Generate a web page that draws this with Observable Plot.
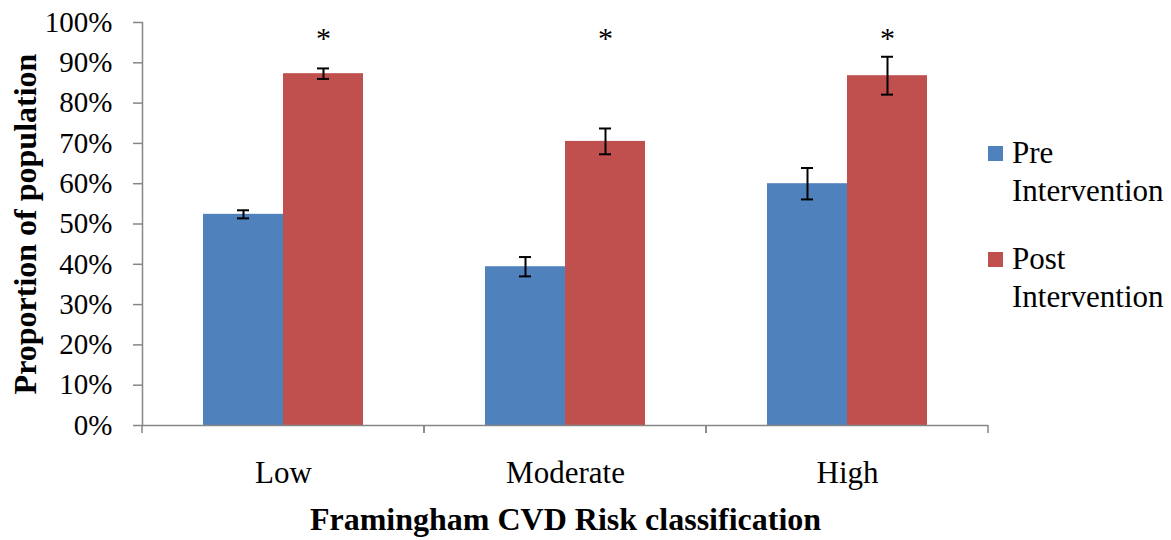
<!DOCTYPE html>
<html>
<head>
<meta charset="utf-8">
<script src="https://cdn.jsdelivr.net/npm/d3@7"></script>
<script src="https://cdn.jsdelivr.net/npm/@observablehq/plot@0.6"></script>
<style>
  body { margin: 0; background: #fff; }
  #wrap { position: relative; width: 1171px; height: 540px; font-family: "Liberation Serif", "Times New Roman", serif; }
  #wrap svg { position: absolute; left: 0; top: 0; }
  .lg { position: absolute; left: 988px; font-size: 31px; line-height: 38px; color: #000; }
  .lg .sw { position: absolute; left: 0; top: 12px; width: 15px; height: 15px; }
  .lg .tx { position: absolute; left: 24px; top: 0; white-space: nowrap; }
</style>
</head>
<body>
<div id="wrap"></div>
<script>
// ---- data ----
const categories = ["Low", "Moderate", "High"];
const series = ["Pre Intervention", "Post Intervention"];
const seriesLines = [["Pre", "Intervention"], ["Post", "Intervention"]];
const preValues  = [52.4, 39.4, 60.0];
const preErrors  = [1.0, 2.4, 3.9];
const postValues = [87.3, 70.5, 86.8];
const postErrors = [1.3, 3.2, 4.7];
const significant = [true, true, true];
const yTicks = [0, 10, 20, 30, 40, 50, 60, 70, 80, 90, 100];
const colors = ["#4F81BD", "#C0504D"];
const yLabel = "Proportion of population";
const xLabel = "Framingham CVD Risk classification";

// ---- table ----
const rows = [];
categories.forEach((c, i) => {
  rows.push({category: c, series: series[0], value: preValues[i], err: preErrors[i]});
  rows.push({category: c, series: series[1], value: postValues[i], err: postErrors[i]});
});
const starRows = categories
  .map((c, i) => ({category: c, series: series[1], sig: significant[i]}))
  .filter(d => d.sig);

const axisGray = "#868686";

// boundary ticks under the category axis (drawn at each facet's edges)
function groupTicks(index, scales, values, dimensions) {
  const {width, height, marginLeft, marginRight, marginBottom} = dimensions;
  const y0 = height - marginBottom;
  const g = d3.create("svg:g").attr("stroke", axisGray).attr("stroke-width", 1.5);
  for (const x of [marginLeft, width - marginRight]) {
    g.append("line").attr("x1", x).attr("x2", x).attr("y1", y0).attr("y2", y0 + 8);
  }
  return g.node();
}

const chart = Plot.plot({
  width: 1171,
  height: 540,
  marginLeft: 141,
  marginRight: 183,
  marginTop: 22,
  marginBottom: 115,
  style: {fontFamily: "'Liberation Serif', 'Times New Roman', serif", background: "white", color: "black"},
  fx: {domain: categories, padding: 0},
  x: {domain: series, paddingInner: 0, paddingOuter: 0.75, axis: null},
  y: {domain: [0, 100]},
  color: {domain: series, range: colors},
  marks: [
    Plot.barY(rows, {fx: "category", x: "series", y: "value", fill: "series"}),
    Plot.ruleX(rows, {fx: "category", x: "series", y1: d => d.value - d.err, y2: d => d.value + d.err, stroke: "black", strokeWidth: 2}),
    Plot.tickY(rows, {fx: "category", x: "series", y: d => d.value - d.err, stroke: "black", strokeWidth: 2, insetLeft: 34, insetRight: 34}),
    Plot.tickY(rows, {fx: "category", x: "series", y: d => d.value + d.err, stroke: "black", strokeWidth: 2, insetLeft: 34, insetRight: 34}),
    Plot.text(starRows, {fx: "category", x: "series", text: () => "*", frameAnchor: "top", dy: 4, fontSize: 30, fill: "black"}),
    Plot.ruleY([0], {stroke: axisGray, strokeWidth: 1.5}),
    Plot.frame({anchor: "left", facetAnchor: "left", stroke: axisGray, strokeWidth: 1.5}),
    groupTicks,
    Plot.axisY({ticks: yTicks, tickFormat: d => d + "%", tickSize: 9, tickPadding: 21, fontSize: 29, stroke: axisGray, strokeWidth: 1.5, label: null}),
    Plot.axisY({ticks: [], tickSize: 0, label: yLabel, labelAnchor: "center", labelOffset: 129, labelArrow: "none", fontSize: 32, fontWeight: "bold"}),
    Plot.axisFx({anchor: "bottom", tickSize: 0, tickPadding: 35, fontSize: 31, label: null}),
    Plot.axisFx({anchor: "bottom", ticks: [], tickSize: 0, label: xLabel, labelAnchor: "center", labelOffset: 104, fontSize: 32, fontWeight: "bold"})
  ]
});

const wrap = document.getElementById("wrap");
wrap.appendChild(chart);

// legend (right side, wrapped text as in the original)
const legendTops = [134, 240];
series.forEach((s, i) => {
  const item = document.createElement("div");
  item.className = "lg";
  item.style.top = legendTops[i] + "px";
  const sw = document.createElement("div");
  sw.className = "sw";
  sw.style.background = colors[i];
  const tx = document.createElement("div");
  tx.className = "tx";
  tx.innerHTML = seriesLines[i].join("<br>");
  item.appendChild(sw);
  item.appendChild(tx);
  wrap.appendChild(item);
});
</script>
</body>
</html>
